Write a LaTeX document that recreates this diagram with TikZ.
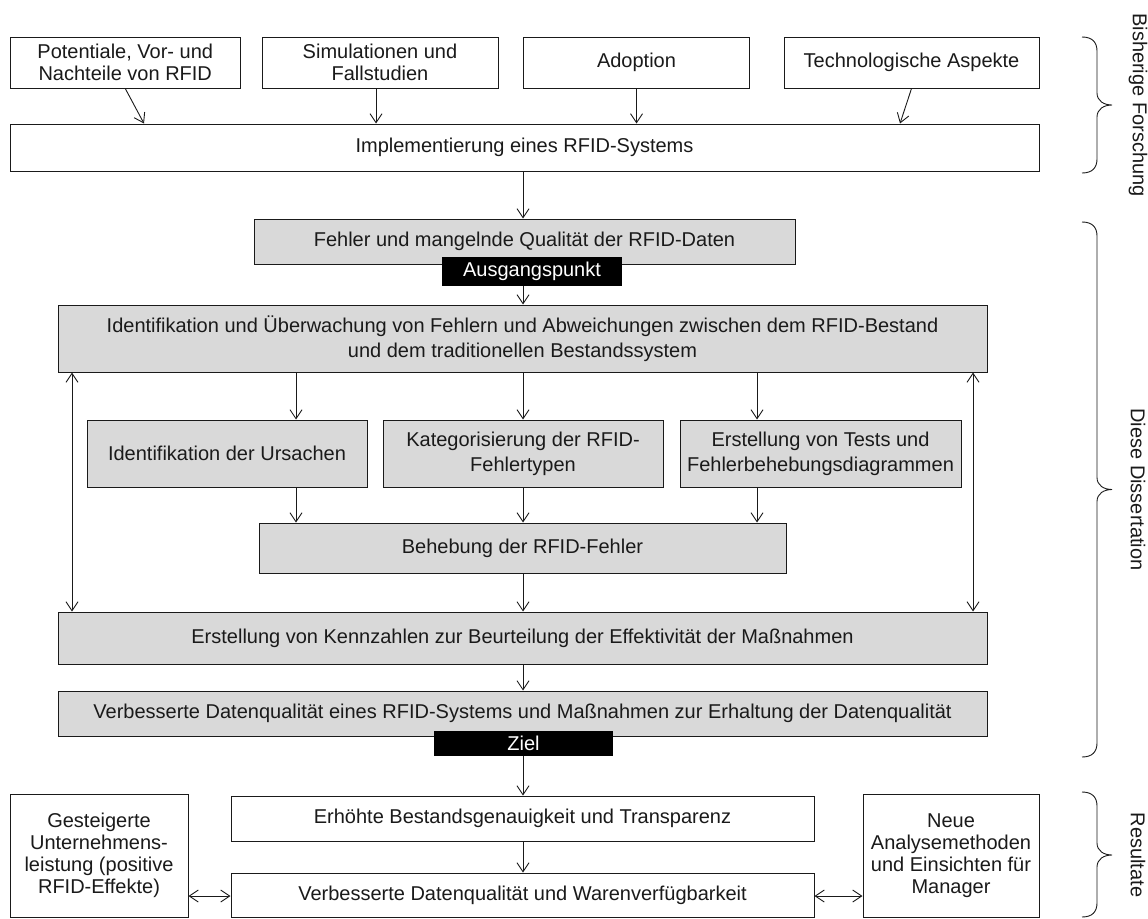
\documentclass[tikz,border=0pt]{standalone}
\usepackage{fontspec}
\setmainfont{Liberation Sans}
\usetikzlibrary{arrows.meta,calc}
\definecolor{boxgray}{HTML}{D9D9D9}
\definecolor{ink}{HTML}{1A1A1A}
\tikzset{
  base/.style={draw=ink, line width=1pt, inner sep=0pt, align=center, text=ink,
    font=\fontsize{20}{24}\selectfont, anchor=center},
  whitebox/.style={base, fill=white},
  graybox/.style={base, fill=boxgray},
  tag/.style={fill=black, text=white, inner sep=0pt, anchor=center,
    font=\fontsize{20}{24}\selectfont},
  arr/.style={draw=ink, line width=0.9pt,
    -{Straight Barb[length=9pt,width=12pt]}},
  dblarr/.style={draw=ink, line width=0.9pt,
    {Straight Barb[length=9pt,width=12pt]}-{Straight Barb[length=9pt,width=12pt]}},
  sidelabel/.style={rotate=-90, font=\fontsize{20}{24}\selectfont, text=ink, inner sep=0pt},
  bracepath/.style={draw=ink, line width=0.9pt},
}
% curly brace opening to the left, tip pointing right: top, tip, bottom
\newcommand{\sidebrace}[3]{%
  \draw[bracepath] (1082,#1) .. controls (1092,#1) and (1097,#1+5) .. (1097,#1+14)
    -- (1097,#2-12) .. controls (1097,#2-4) and (1104,#2) .. (1112,#2)
    .. controls (1104,#2) and (1097,#2+4) .. (1097,#2+12)
    -- (1097,#3-14) .. controls (1097,#3-5) and (1092,#3) .. (1082,#3);
}
\begin{document}
\begin{tikzpicture}[x=1pt,y=-1pt]
\useasboundingbox (0,0) rectangle (1148,918);

% columns used by the vertical connectors
\coordinate (sp) at (523,0);
\coordinate (c1) at (296,0);
\coordinate (c3) at (757,0);
\coordinate (lc) at (72,0);
\coordinate (rc) at (973,0);
\coordinate (t1) at (144,0);
\coordinate (t2) at (376,0);
\coordinate (t4) at (900,0);
\coordinate (rw) at (0,896);

% previous research
\node[whitebox, minimum width=230.5pt, minimum height=51pt, font=\fontsize{20}{22}\selectfont]
  (p1) at (125.25,62.5) {Potentiale, Vor- und\\Nachteile von RFID};
\node[whitebox, minimum width=236pt, minimum height=51pt, font=\fontsize{20}{22}\selectfont]
  (p2) at (380,62.5) {Simulationen und\\Fallstudien};
\node[whitebox, minimum width=226pt, minimum height=51pt] (p3) at (636.5,62.5) {Adoption};
\node[whitebox, minimum width=255pt, minimum height=51pt] (p4) at (911.5,62.5) {Technologische Aspekte};
\node[whitebox, minimum width=1029pt, minimum height=47pt] (impl) at (524.5,147.5)
  {Implementierung eines RFID-Systems};

% dissertation
\node[graybox, minimum width=541pt, minimum height=45pt] (fehler) at (524.5,241.5)
  {Fehler und mangelnde Qualität der RFID-Daten};
\node[tag, minimum width=180pt, minimum height=29pt] (ausg) at (532,271.5) {Ausgangspunkt};
\node[graybox, minimum width=929pt, minimum height=67pt, font=\fontsize{20}{25}\selectfont]
  (ident) at (522.5,338.5)
  {Identifikation und Überwachung von Fehlern und Abweichungen zwischen dem RFID-Bestand\\und dem traditionellen Bestandssystem};
\node[graybox, minimum width=280pt, minimum height=67pt] (urs) at (227,453.5)
  {Identifikation der Ursachen};
\node[graybox, minimum width=280pt, minimum height=67pt, font=\fontsize{20}{25}\selectfont]
  (kat) at (523,453.5) {Kategorisierung der RFID-\\Fehlertypen};
\node[graybox, minimum width=281pt, minimum height=67pt, font=\fontsize{20}{25}\selectfont]
  (tests) at (820.5,453.5) {Erstellung von Tests und\\Fehlerbehebungsdiagrammen};
\node[graybox, minimum width=527pt, minimum height=50pt] (beh) at (522.5,548)
  {Behebung der RFID-Fehler};
\node[graybox, minimum width=929pt, minimum height=52pt] (erst) at (522.5,638)
  {Erstellung von Kennzahlen zur Beurteilung der Effektivität der Maßnahmen};
\node[graybox, minimum width=929pt, minimum height=45pt] (verb) at (522.5,713.5)
  {Verbesserte Datenqualität eines RFID-Systems und Maßnahmen zur Erhaltung der Datenqualität};
\node[tag, minimum width=179pt, minimum height=25pt] (ziel) at (523.5,743.5) {Ziel};

% results
\node[whitebox, minimum width=583pt, minimum height=45pt] (erh) at (522.5,818.5)
  {Erhöhte Bestandsgenauigkeit und Transparenz};
\node[whitebox, minimum width=583pt, minimum height=44pt] (verd) at (522.5,895)
  {Verbesserte Datenqualität und Warenverfügbarkeit};
\node[whitebox, minimum width=178pt, minimum height=123pt, font=\fontsize{20}{22}\selectfont]
  (ges) at (99,855.5) {Gesteigerte\\Unternehmens-\\leistung (positive\\RFID-Effekte)};
\node[whitebox, minimum width=176pt, minimum height=123pt, font=\fontsize{20}{22}\selectfont]
  (neue) at (951,855.5) {Neue\\Analysemethoden\\und Einsichten für\\Manager};

% connectors
\draw[arr] (p1.south) -- (impl.north -| t1);
\draw[arr] (p2.south -| t2) -- (impl.north -| t2);
\draw[arr] (p3.south) -- (p3.south |- impl.north);
\draw[arr] (p4.south) -- (impl.north -| t4);
\draw[arr] (impl.south -| sp) -- (fehler.north -| sp);
\draw[arr] (ausg.south -| sp) -- (ident.north -| sp);
\foreach \col/\bx in {c1/urs, sp/kat, c3/tests}{
  \draw[arr] (ident.south -| \col) -- (\bx.north -| \col);
  \draw[arr] (\bx.south -| \col) -- (beh.north -| \col);
}
\draw[arr] (beh.south -| sp) -- (erst.north -| sp);
\draw[dblarr] (ident.south -| lc) -- (erst.north -| lc);
\draw[dblarr] (ident.south -| rc) -- (erst.north -| rc);
\draw[arr] (erst.south -| sp) -- (verb.north -| sp);
\draw[arr] (ziel.south -| sp) -- (erh.north -| sp);
\draw[arr] (erh.south -| sp) -- (verd.north -| sp);
\draw[dblarr] (ges.east |- rw) -- (verd.west |- rw);
\draw[dblarr] (verd.east |- rw) -- (neue.west |- rw);

% section braces and their labels
\sidebrace{37}{105}{173}
\sidebrace{222}{489.5}{757}
\sidebrace{792}{855}{917}
\node[sidelabel] (lbis) at (1138,105) {Bisherige Forschung};
\node[sidelabel] (ldiss) at (1138,489.5) {Diese Dissertation};
\node[sidelabel] (lres) at (1138,855) {Resultate};
\end{tikzpicture}
\end{document}
